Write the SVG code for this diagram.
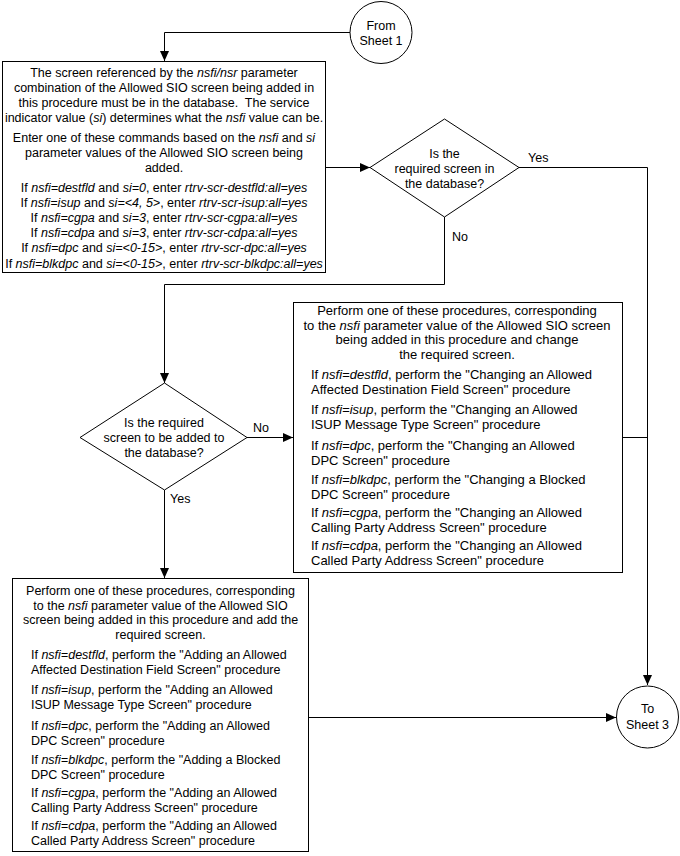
<svg xmlns="http://www.w3.org/2000/svg" width="680" height="856" viewBox="0 0 680 856">
<defs>
<marker id="arr" markerUnits="userSpaceOnUse" markerWidth="10" markerHeight="9" refX="10" refY="4.5" orient="auto">
<path d="M0,0 L10,4.5 L0,9 z" fill="#000"/>
</marker>
<style>
text{font-family:"Liberation Sans",Arial,sans-serif;font-size:12.5px;fill:#000}
.c{text-anchor:middle}
.i{font-style:italic}
.b2 text{font-size:13px}
.shape{fill:#fff;stroke:#000;stroke-width:1}
.ln{fill:none;stroke:#000;stroke-width:1}
</style>
</defs>
<rect width="680" height="856" fill="#fff"/>
<g id="connectors">
<path class="ln" d="M350,32.5 H164.5 V61" marker-end="url(#arr)"/>
<path class="ln" d="M325.5,167.5 H370" marker-end="url(#arr)"/>
<path class="ln" d="M519,167.5 H647.5 V685" marker-end="url(#arr)"/>
<path class="ln" d="M444.5,217 V284.5 H164.5 V383" marker-end="url(#arr)"/>
<path class="ln" d="M247,437.5 H293" marker-end="url(#arr)"/>
<path class="ln" d="M622.5,437.5 H647.5"/>
<path class="ln" d="M164.5,490 V578" marker-end="url(#arr)"/>
<path class="ln" d="M308.5,717.5 H616" marker-end="url(#arr)"/>
<text x="528" y="162">Yes</text>
<text x="452" y="241">No</text>
<text x="253" y="432">No</text>
<text x="170" y="503">Yes</text>
</g>
<g id="from-sheet1">
<circle class="shape" cx="381" cy="32.5" r="31"/>
<text class="c" x="381" y="29.5">From</text>
<text class="c" x="381" y="45">Sheet 1</text>
</g>
<g id="box1">
<rect class="shape" x="2.5" y="61.5" width="323" height="211"/>
<text class="c" x="164" y="76.5">The screen referenced by the <tspan class="i">nsfi/nsr</tspan> parameter</text>
<text class="c" x="164" y="91.5">combination of the Allowed SIO screen being added in</text>
<text class="c" x="164" y="106.5" style="white-space:pre">this procedure must be in the database.  The service</text>
<text class="c" x="164" y="121.5">indicator value (<tspan class="i">si</tspan>) determines what the <tspan class="i">nsfi</tspan> value can be.</text>
<text class="c" x="164" y="141.5">Enter one of these commands based on the <tspan class="i">nsfi</tspan> and <tspan class="i">si</tspan></text>
<text class="c" x="164" y="156.5">parameter values of the Allowed SIO screen being</text>
<text class="c" x="164" y="171.5">added.</text>
<text class="c" x="164" y="191.5">If <tspan class="i">nsfi=destfld</tspan> and <tspan class="i">si=0</tspan>, enter <tspan class="i">rtrv-scr-destfld:all=yes</tspan></text>
<text class="c" x="164" y="206.5">If <tspan class="i">nsfi=isup</tspan> and <tspan class="i">si=&lt;4, 5&gt;</tspan>, enter <tspan class="i">rtrv-scr-isup:all=yes</tspan></text>
<text class="c" x="164" y="221.5">If <tspan class="i">nsfi=cgpa</tspan> and <tspan class="i">si=3</tspan>, enter <tspan class="i">rtrv-scr-cgpa:all=yes</tspan></text>
<text class="c" x="164" y="236.5">If <tspan class="i">nsfi=cdpa</tspan> and <tspan class="i">si=3</tspan>, enter <tspan class="i">rtrv-scr-cdpa:all=yes</tspan></text>
<text class="c" x="164" y="252">If <tspan class="i">nsfi=dpc</tspan> and <tspan class="i">si=&lt;0-15&gt;</tspan>, enter <tspan class="i">rtrv-scr-dpc:all=yes</tspan></text>
<text class="c" x="164" y="267.5">If <tspan class="i">nsfi=blkdpc</tspan> and <tspan class="i">si=&lt;0-15&gt;</tspan>, enter <tspan class="i">rtrv-scr-blkdpc:all=yes</tspan></text>
</g>
<g id="decision1">
<polygon class="shape" points="370,167.5 444.5,119 519,167.5 444.5,217"/>
<text class="c" x="444.5" y="157.5">Is the</text>
<text class="c" x="444.5" y="172.5">required screen in</text>
<text class="c" x="444.5" y="187.5">the database?</text>
</g>
<g id="decision2">
<polygon class="shape" points="80,437.5 164.5,383 247,437.5 164.5,490"/>
<text class="c" x="164" y="426.5">Is the required</text>
<text class="c" x="164" y="441.5">screen to be added to</text>
<text class="c" x="164" y="456.5">the database?</text>
</g>
<g id="box2" class="b2">
<rect class="shape" x="293.5" y="302.5" width="329" height="270"/>
<text class="c" x="457" y="314.5">Perform one of these procedures, corresponding</text>
<text class="c" x="457" y="329.5">to the <tspan class="i">nsfi</tspan> parameter value of the Allowed SIO screen</text>
<text class="c" x="457" y="344">being added in this procedure and change</text>
<text class="c" x="457" y="358.5">the required screen.</text>
<text x="311" y="378.5">If <tspan class="i">nsfi=destfld</tspan>, perform the "Changing an Allowed</text>
<text x="311" y="393.5">Affected Destination Field Screen" procedure</text>
<text x="311" y="413.5">If <tspan class="i">nsfi=isup</tspan>, perform the "Changing an Allowed</text>
<text x="311" y="428.5">ISUP Message Type Screen" procedure</text>
<text x="311" y="449.5">If <tspan class="i">nsfi=dpc</tspan>, perform the "Changing an Allowed</text>
<text x="311" y="464.5">DPC Screen" procedure</text>
<text x="311" y="483.5">If <tspan class="i">nsfi=blkdpc</tspan>, perform the "Changing a Blocked</text>
<text x="311" y="498.5">DPC Screen" procedure</text>
<text x="311" y="516.5">If <tspan class="i">nsfi=cgpa</tspan>, perform the "Changing an Allowed</text>
<text x="311" y="531.5">Calling Party Address Screen" procedure</text>
<text x="311" y="549.5">If <tspan class="i">nsfi=cdpa</tspan>, perform the "Changing an Allowed</text>
<text x="311" y="564.5">Called Party Address Screen" procedure</text>
</g>
<g id="box3">
<rect class="shape" x="12.5" y="578.5" width="296" height="273"/>
<text class="c" x="160.5" y="594.5">Perform one of these procedures, corresponding</text>
<text class="c" x="160.5" y="609.5">to the <tspan class="i">nsfi</tspan> parameter value of the Allowed SIO</text>
<text class="c" x="160.5" y="624">screen being added in this procedure and add the</text>
<text class="c" x="160.5" y="638.5">required screen.</text>
<text x="31" y="658.5">If <tspan class="i">nsfi=destfld</tspan>, perform the "Adding an Allowed</text>
<text x="31" y="673.5">Affected Destination Field Screen" procedure</text>
<text x="31" y="693.5">If <tspan class="i">nsfi=isup</tspan>, perform the "Adding an Allowed</text>
<text x="31" y="708.5">ISUP Message Type Screen" procedure</text>
<text x="31" y="729.5">If <tspan class="i">nsfi=dpc</tspan>, perform the "Adding an Allowed</text>
<text x="31" y="744.5">DPC Screen" procedure</text>
<text x="31" y="763.5">If <tspan class="i">nsfi=blkdpc</tspan>, perform the "Adding a Blocked</text>
<text x="31" y="778.5">DPC Screen" procedure</text>
<text x="31" y="796.5">If <tspan class="i">nsfi=cgpa</tspan>, perform the "Adding an Allowed</text>
<text x="31" y="811.5">Calling Party Address Screen" procedure</text>
<text x="31" y="829.5">If <tspan class="i">nsfi=cdpa</tspan>, perform the "Adding an Allowed</text>
<text x="31" y="844.5">Called Party Address Screen" procedure</text>
</g>
<g id="to-sheet3">
<circle class="shape" cx="647.5" cy="717" r="31"/>
<text class="c" x="647.5" y="713">To</text>
<text class="c" x="647.5" y="728.5">Sheet 3</text>
</g>
</svg>
